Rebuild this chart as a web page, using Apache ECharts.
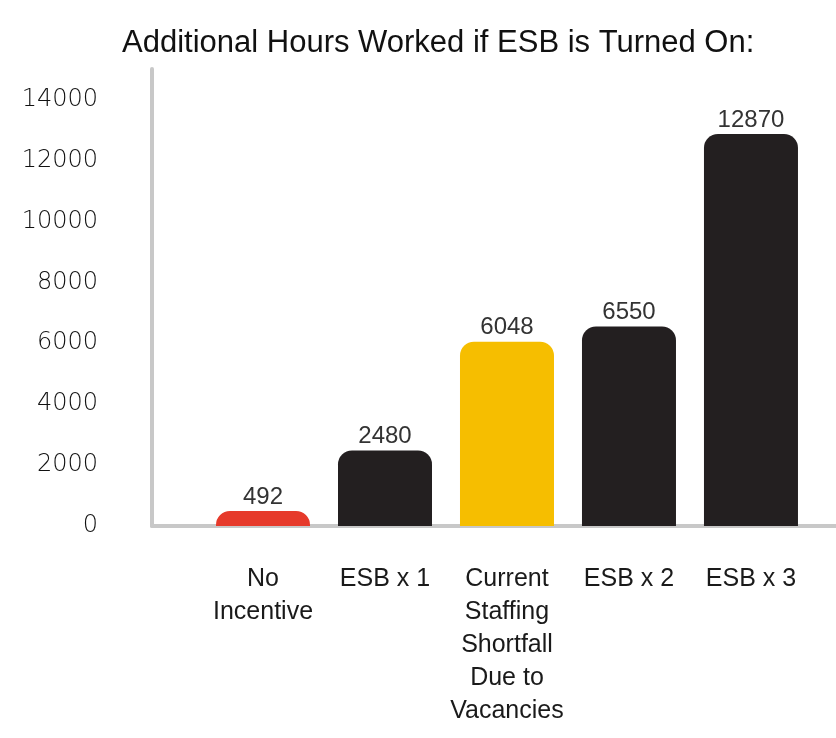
<!DOCTYPE html>
<html>
<head>
<meta charset="utf-8">
<script src="https://cdn.jsdelivr.net/npm/echarts@6/dist/echarts.min.js"></script>
<style>
  html, body { margin: 0; padding: 0; background: #fff; }
  #main { width: 836px; height: 738px; }
</style>
</head>
<body>
<div id="main"></div>
<script>
// data
var categories = ['No\nIncentive', 'ESB x 1', 'Current\nStaffing\nShortfall\nDue to\nVacancies', 'ESB x 2', 'ESB x 3'];
var hours = [492, 2480, 6048, 6550, 12870];
var barColors = ['#e63a2b', '#231f20', '#f6be00', '#231f20', '#231f20'];
var yTicks = { min: 0, max: 15000, interval: 2000 };

var chart = echarts.init(document.getElementById('main'));

var seriesData = hours.map(function (v, i) {
    return { value: [i, v], itemStyle: { color: barColors[i] } };
});

chart.setOption({
    animation: false,
    title: {
        text: 'Additional Hours Worked if ESB is Turned On:',
        left: 122,
        top: 28,
        padding: 0,
        textStyle: {
            fontFamily: 'Liberation Sans',
            fontSize: 31,
            fontWeight: 'normal',
            color: '#111'
        }
    },
    grid: {
        left: 152,
        right: 0,
        top: 69,
        bottom: 212
    },
    xAxis: {
        type: 'value',
        // categories sit 122px apart, first one 111px right of the y axis
        min: -0.91,
        max: 4.697,
        splitLine: { show: false },
        axisTick: { show: false },
        axisLine: { show: true, onZero: false, lineStyle: { color: '#c8c8c8', width: 4 } },
        axisLabel: {
            customValues: [0, 1, 2, 3, 4],
            formatter: function (v) { return categories[Math.round(v)]; },
            margin: 37,
            fontFamily: 'Liberation Sans',
            fontSize: 25,
            lineHeight: 33,
            color: '#1a1a1a',
            align: 'center',
            verticalAlign: 'top'
        }
    },
    yAxis: {
        type: 'value',
        min: yTicks.min,
        max: yTicks.max,
        interval: yTicks.interval,
        splitLine: { show: false },
        axisTick: { show: false },
        axisLine: { show: true, onZero: false, lineStyle: { color: '#c8c8c8', width: 4 } },
        axisLabel: {
            showMaxLabel: false,
            formatter: function (v) { return String(v); },
            margin: 54,
            padding: [6, 0, 0, 0],
            fontFamily: 'DejaVu Sans',
            fontWeight: 300,
            fontSize: 24,
            color: '#111'
        }
    },
    series: [{
        type: 'bar',
        barWidth: 94,
        data: seriesData,
        itemStyle: { borderRadius: [14, 14, 0, 0] },
        label: {
            show: true,
            position: 'top',
            distance: 2,
            formatter: function (p) { return p.value[1]; },
            fontFamily: 'Liberation Sans',
            fontSize: 24,
            color: '#333'
        }
    }]
});
</script>
</body>
</html>
